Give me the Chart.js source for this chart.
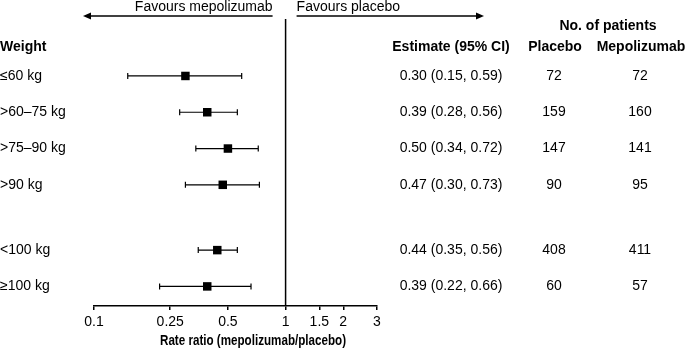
<!DOCTYPE html>
<html lang="en">
<head>
<meta charset="UTF-8">
<title>Rate ratio by weight</title>
<style>
    body { margin: 0; background: #fff; }
    canvas { display: block; }
</style>
</head>
<body>
<canvas id="forest" width="685" height="351"></canvas>
<script src="https://cdn.jsdelivr.net/npm/chart.js"></script>
<script>
// subgroup data
const groups = ['≤60 kg', '>60–75 kg', '>75–90 kg', '>90 kg', '<100 kg', '≥100 kg'];
const rowPos = [0, 1, 2, 3, 4.8, 5.8];
const estimate = [0.30, 0.39, 0.50, 0.47, 0.44, 0.39];
const lower = [0.15, 0.28, 0.34, 0.30, 0.35, 0.22];
const upper = [0.59, 0.56, 0.72, 0.73, 0.56, 0.66];
const nPlacebo = [72, 159, 147, 90, 408, 60];
const nMepo = [72, 160, 141, 95, 411, 57];
const xTicks = [0.1, 0.25, 0.5, 1, 1.5, 2, 3];

const FONT = 'Liberation Sans, Arial, Helvetica, sans-serif';
const yMin = -1.57, yMax = 6.34;

// CI lines with end caps
const whiskers = {
    id: 'whiskers',
    beforeDatasetsDraw(chart) {
        const { ctx, scales: { x, y } } = chart;
        ctx.save();
        ctx.strokeStyle = '#000';
        ctx.lineWidth = 1.2;
        lower.forEach((lo, i) => {
            const yy = y.getPixelForValue(rowPos[i]);
            const x0 = x.getPixelForValue(lo);
            const x1 = x.getPixelForValue(upper[i]);
            ctx.beginPath();
            ctx.moveTo(x0, yy); ctx.lineTo(x1, yy);
            ctx.moveTo(x0, yy - 3); ctx.lineTo(x0, yy + 3);
            ctx.moveTo(x1, yy - 3); ctx.lineTo(x1, yy + 3);
            ctx.stroke();
        });
        ctx.restore();
    }
};

function arrow(ctx, xFrom, xTo, y) {
    const dir = Math.sign(xTo - xFrom);
    ctx.beginPath();
    ctx.moveTo(xFrom, y);
    ctx.lineTo(xTo - dir * 6, y);
    ctx.stroke();
    ctx.beginPath();
    ctx.moveTo(xTo, y);
    ctx.lineTo(xTo - dir * 8, y - 3.5);
    ctx.lineTo(xTo - dir * 8, y + 3.5);
    ctx.closePath();
    ctx.fill();
}

// labels, table columns, axis title and the favours arrows
const annotations = {
    id: 'annotations',
    afterDraw(chart) {
        const { ctx, scales: { x, y } } = chart;
        const one = x.getPixelForValue(1);
        ctx.save();
        ctx.fillStyle = '#000';
        ctx.strokeStyle = '#000';
        ctx.lineWidth = 1.4;
        ctx.textBaseline = 'middle';

        ctx.font = '14px ' + FONT;
        ctx.textAlign = 'right';
        ctx.fillText('Favours mepolizumab', one - 13, 7);
        ctx.textAlign = 'left';
        ctx.fillText('Favours placebo', one + 11, 7);
        arrow(ctx, one - 13, 83, 16);
        arrow(ctx, one + 11, 484, 16);

        ctx.font = 'bold 14px ' + FONT;
        ctx.textAlign = 'center';
        ctx.fillText('No. of patients', 608, 26);
        ctx.fillText('Estimate (95% CI)', 451, 47);
        ctx.fillText('Placebo', 555, 47);
        ctx.fillText('Mepolizumab', 641, 47);
        ctx.textAlign = 'left';
        ctx.fillText('Weight', 0, 47);

        // axis title: condensed bold, a bit right of the axis centre
        ctx.textAlign = 'center';
        ctx.fillText('Rate ratio (mepolizumab/placebo)', 253, 341, 186);

        ctx.font = '14px ' + FONT;
        groups.forEach((g, i) => {
            const yy = y.getPixelForValue(rowPos[i]);
            ctx.textAlign = 'left';
            ctx.fillText(g, 0, yy);
            ctx.textAlign = 'center';
            const txt = `${estimate[i].toFixed(2)} (${lower[i].toFixed(2)}, ${upper[i].toFixed(2)})`;
            ctx.fillText(txt, 451, yy);
            ctx.fillText(String(nPlacebo[i]), 554, yy);
            ctx.fillText(String(nMepo[i]), 640, yy);
        });
        ctx.restore();
    }
};

const ctx = document.getElementById('forest').getContext('2d');
new Chart(ctx, {
    type: 'scatter',
    data: {
        datasets: [
            {
                label: 'No effect',
                type: 'line',
                data: [{ x: 1, y: yMin }, { x: 1, y: yMax }],
                borderColor: '#000',
                borderWidth: 1.5,
                pointRadius: 0
            },
            {
                label: 'Estimate',
                data: estimate.map((v, i) => ({ x: v, y: rowPos[i] })),
                pointStyle: 'rect',
                pointRadius: 6,
                backgroundColor: '#000',
                borderColor: '#000',
                borderWidth: 0
            }
        ]
    },
    options: {
        responsive: false,
        animation: false,
        layout: { padding: { left: 94, right: 308, top: 19, bottom: 0 } },
        plugins: {
            legend: { display: false },
            tooltip: { enabled: false }
        },
        scales: {
            x: {
                type: 'logarithmic',
                min: 0.1,
                max: 3,
                afterBuildTicks: s => { s.ticks = xTicks.map(v => ({ value: v })); },
                afterFit: s => { s.height = 45; },
                grid: { drawOnChartArea: false, drawTicks: true, tickLength: 4, color: '#000', lineWidth: 1.5 },
                border: { display: true, color: '#000', width: 1.5 },
                ticks: {
                    color: '#000',
                    font: { family: FONT, size: 14 },
                    padding: 4,
                    maxRotation: 0,
                    autoSkip: false,
                    callback: v => String(v)
                },
                title: { display: false }
            },
            y: {
                type: 'linear',
                reverse: true,
                min: yMin,
                max: yMax,
                display: false
            }
        }
    },
    plugins: [whiskers, annotations]
});
</script>
</body>
</html>
